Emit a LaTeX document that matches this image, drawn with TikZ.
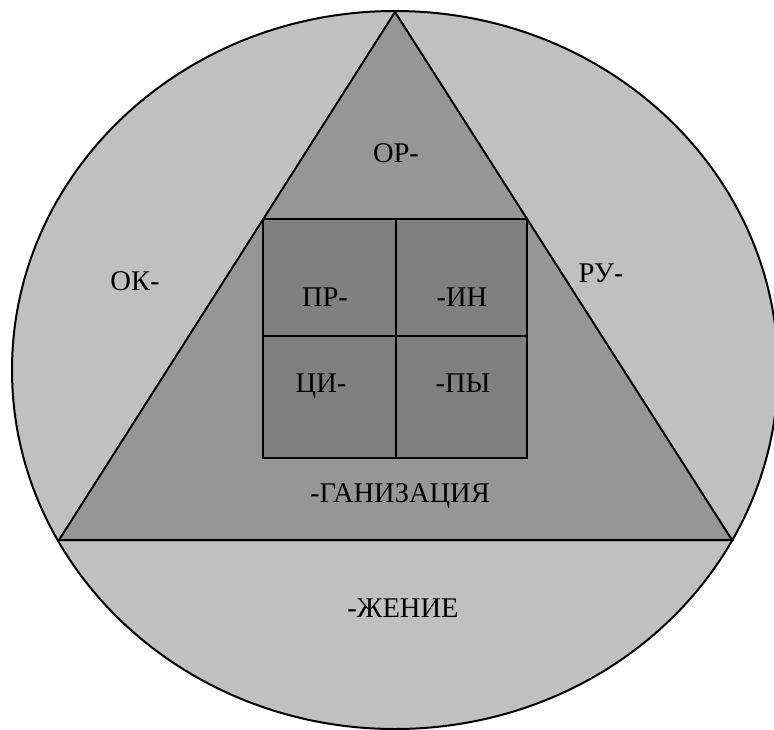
\documentclass[tikz,border=0pt]{standalone}
\usepackage{fontspec}
\setmainfont{Liberation Serif}
\begin{document}
\begin{tikzpicture}[x=1pt,y=-1pt,
  outline/.style={draw=black,line width=2pt},
  lbl/.style={font=\fontsize{28.5}{32}\selectfont,text=black,inner sep=0pt}]
\useasboundingbox (0,0) rectangle (774,729);
\definecolor{circlegray}{HTML}{C0C0C0}
\definecolor{trigray}{HTML}{969696}
\definecolor{sqgray}{HTML}{808080}
\begin{scope}
\clip (0,0) rectangle (774,729);
\path[outline,fill=circlegray] (395,370) ellipse [x radius=383, y radius=359];
\end{scope}
\coordinate (apex) at (395,12);
\coordinate (bl) at (59,540);
\coordinate (br) at (732,540);
\path[outline,fill=trigray,line join=miter] (apex) -- (bl) -- (br) -- cycle;
\path[outline,fill=sqgray] (263,219) rectangle (527,458);
\draw[outline] (396,219) -- (396,458);
\draw[outline] (263,336) -- (527,336);
\node[lbl] (or) at (396,153) {ОР-};
\node[lbl] (ok) at (135,281) {ОК-};
\node[lbl] (ru) at (601,273) {РУ-};
\node[lbl] (pr) at (325,297) {ПР-};
\node[lbl] (in) at (462,297) {-ИН};
\node[lbl] (ci) at (321,386) {ЦИ-};
\node[lbl] (py) at (463,383) {-ПЫ};
\node[lbl] (gan) at (400,496) {-ГАНИЗАЦИЯ};
\node[lbl] (zh) at (403,608) {-ЖЕНИЕ};
\end{tikzpicture}
\end{document}
